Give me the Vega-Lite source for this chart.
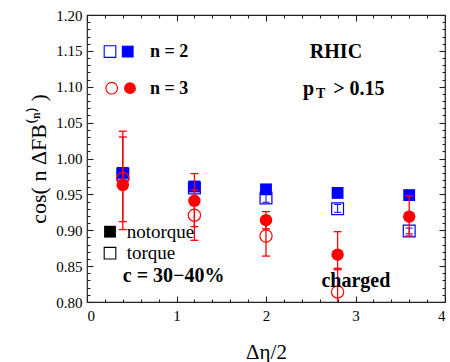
{
  "$schema": "https://vega.github.io/schema/vega-lite/v6.json",
  "width": 358,
  "height": 287,
  "autosize": {"type": "none"},
  "padding": {"left": 87, "top": 15, "right": 5, "bottom": 60},
  "background": "white",
  "datasets": {
    "pts": [
      {"x": 0.4, "n": 2, "t": "notorque", "v": 0.980, "lo": 0.976, "hi": 0.984},
      {"x": 1.2, "n": 2, "t": "notorque", "v": 0.961, "lo": 0.957, "hi": 0.965},
      {"x": 2.0, "n": 2, "t": "notorque", "v": 0.957, "lo": 0.952, "hi": 0.961},
      {"x": 2.8, "n": 2, "t": "notorque", "v": 0.952, "lo": 0.949, "hi": 0.955},
      {"x": 3.6, "n": 2, "t": "notorque", "v": 0.949, "lo": 0.946, "hi": 0.952},
      {"x": 0.4, "n": 2, "t": "torque", "v": 0.978, "lo": 0.973, "hi": 0.983},
      {"x": 1.2, "n": 2, "t": "torque", "v": 0.959, "lo": 0.954, "hi": 0.964},
      {"x": 2.0, "n": 2, "t": "torque", "v": 0.945, "lo": 0.939, "hi": 0.951},
      {"x": 2.8, "n": 2, "t": "torque", "v": 0.930, "lo": 0.925, "hi": 0.936},
      {"x": 3.6, "n": 2, "t": "torque", "v": 0.899, "lo": 0.895, "hi": 0.903},
      {"x": 0.4, "n": 3, "t": "notorque", "v": 0.963, "lo": 0.901, "hi": 1.030},
      {"x": 1.2, "n": 3, "t": "notorque", "v": 0.941, "lo": 0.905, "hi": 0.979},
      {"x": 2.0, "n": 3, "t": "notorque", "v": 0.914, "lo": 0.902, "hi": 0.926},
      {"x": 2.8, "n": 3, "t": "notorque", "v": 0.866, "lo": 0.845, "hi": 0.898},
      {"x": 3.6, "n": 3, "t": "notorque", "v": 0.919, "lo": 0.892, "hi": 0.948},
      {"x": 0.4, "n": 3, "t": "torque", "v": 0.972, "lo": 0.912, "hi": 1.038},
      {"x": 1.2, "n": 3, "t": "torque", "v": 0.921, "lo": 0.886, "hi": 0.956},
      {"x": 2.0, "n": 3, "t": "torque", "v": 0.892, "lo": 0.864, "hi": 0.920},
      {"x": 2.8, "n": 3, "t": "torque", "v": 0.814, "lo": 0.780, "hi": 0.847}
    ],
    "leg": [
      {"x": 0.257, "y": 1.149, "k": "bo", "f": "open"},
      {"x": 0.455, "y": 1.149, "k": "bf", "f": "filled"},
      {"x": 0.276, "y": 1.098, "k": "ro", "f": "open"},
      {"x": 0.480, "y": 1.098, "k": "rf", "f": "filled"},
      {"x": 0.257, "y": 0.898, "k": "kf", "f": "filled"},
      {"x": 0.257, "y": 0.868, "k": "ko", "f": "open"}
    ],
    "txt": [
      {"x": 0.704, "y": 1.148, "s": "b18", "label": "n = 2"},
      {"x": 0.704, "y": 1.097, "s": "b18", "label": "n = 3"},
      {"x": 2.49, "y": 1.148, "s": "b20", "label": "RHIC"},
      {"x": 2.413, "y": 1.097, "s": "b20", "label": "p"},
      {"x": 2.56, "y": 1.090, "s": "sub", "label": "T"},
      {"x": 2.75, "y": 1.097, "s": "b20", "label": "> 0.15"},
      {"x": 0.40, "y": 0.836, "s": "b20", "label": "c = 30−40%"},
      {"x": 2.62, "y": 0.829, "s": "b20", "label": "charged"},
      {"x": 0.443, "y": 0.898, "s": "r21", "label": "notorque"},
      {"x": 0.443, "y": 0.868, "s": "r21", "label": "torque"}
    ]
  },
  "resolve": {"axis": {"x": "independent", "y": "independent"}},
  "layer": [
    {
      "data": {"name": "pts"},
      "transform": [{"filter": "datum.n == 2 && datum.t == 'torque'"}],
      "mark": {"type": "point", "shape": "square", "filled": false, "stroke": "#0000ff", "strokeWidth": 1.2, "size": 140, "opacity": 1},
      "encoding": {
        "x": {"field": "x", "type": "quantitative", "scale": {"domain": [0, 4]},
              "axis": {"orient": "bottom", "values": [0.2,0.4,0.6,0.8,1.2,1.4,1.6,1.8,2.2,2.4,2.6,2.8,3.2,3.4,3.6,3.8], "labels": false, "title": null, "ticks": true, "tickSize": -3, "tickColor": "#222222", "tickWidth": 1.1, "tickOpacity": 1, "zindex": 2}},
        "y": {"field": "v", "type": "quantitative", "scale": {"domain": [0.8, 1.2]},
              "axis": {"orient": "left", "values": [0.81,0.82,0.83,0.84,0.86,0.87,0.88,0.89,0.91,0.92,0.93,0.94,0.96,0.97,0.98,0.99,1.01,1.02,1.03,1.04,1.06,1.07,1.08,1.09,1.11,1.12,1.13,1.14,1.16,1.17,1.18,1.19], "labels": false, "title": null, "ticks": true, "tickSize": -3, "tickColor": "#222222", "tickWidth": 1.1, "tickOpacity": 1, "zindex": 2}}
      }
    },
    {
      "data": {"name": "pts"},
      "transform": [{"filter": "datum.n == 2"}],
      "mark": {"type": "rule", "stroke": "#0000ff", "strokeWidth": 1},
      "encoding": {
        "x": {"field": "x", "type": "quantitative", "scale": {"domain": [0, 4]}, "axis": null},
        "y": {"field": "lo", "type": "quantitative", "scale": {"domain": [0.8, 1.2]}, "axis": null},
        "y2": {"field": "hi"}
      }
    },
    {
      "data": {"name": "pts"},
      "transform": [{"filter": "datum.n == 2"}],
      "mark": {"type": "tick", "orient": "horizontal", "color": "#0000ff", "size": 7, "thickness": 1, "opacity": 1},
      "encoding": {
        "x": {"field": "x", "type": "quantitative", "scale": {"domain": [0, 4]}, "axis": null},
        "y": {"field": "lo", "type": "quantitative", "scale": {"domain": [0.8, 1.2]}, "axis": null}
      }
    },
    {
      "data": {"name": "pts"},
      "transform": [{"filter": "datum.n == 2"}],
      "mark": {"type": "tick", "orient": "horizontal", "color": "#0000ff", "size": 7, "thickness": 1, "opacity": 1},
      "encoding": {
        "x": {"field": "x", "type": "quantitative", "scale": {"domain": [0, 4]}, "axis": null},
        "y": {"field": "hi", "type": "quantitative", "scale": {"domain": [0.8, 1.2]}, "axis": null}
      }
    },
    {
      "data": {"name": "pts"},
      "transform": [{"filter": "datum.n == 2 && datum.t == 'notorque'"}],
      "mark": {"type": "point", "shape": "square", "filled": true, "color": "#0000ff", "size": 140, "opacity": 1},
      "encoding": {
        "x": {"field": "x", "type": "quantitative", "scale": {"domain": [0, 4]},
              "axis": {"orient": "bottom", "values": [0, 1, 2, 3, 4], "format": "d", "ticks": true, "tickSize": -6, "tickColor": "#222222", "tickWidth": 1.1, "tickOpacity": 1, "labelPadding": 12, "title": "Δη/2", "titlePadding": 18, "zindex": 2}},
        "y": {"field": "v", "type": "quantitative", "scale": {"domain": [0.8, 1.2]},
              "axis": {"orient": "left", "values": [0.8,0.85,0.9,0.95,1.0,1.05,1.1,1.15,1.2], "format": ".2f", "ticks": true, "tickSize": -6, "tickColor": "#222222", "tickWidth": 1.1, "tickOpacity": 1, "labelPadding": 11, "title": "cos( n ΔFB⁽ⁿ⁾ )", "titlePadding": 5, "titleFontSize": 22, "zindex": 2}}
      }
    },
    {
      "data": {"name": "pts"},
      "transform": [{"filter": "datum.n == 3"}],
      "mark": {"type": "rule", "stroke": "#ff0000", "strokeWidth": 1.3, "clip": true},
      "encoding": {
        "x": {"field": "x", "type": "quantitative", "scale": {"domain": [0, 4]},
              "axis": {"orient": "top", "values": [0, 1, 2, 3, 4], "labels": false, "title": null, "ticks": true, "tickSize": -6, "tickColor": "#222222", "tickWidth": 1.1, "tickOpacity": 1, "zindex": 2}},
        "y": {"field": "lo", "type": "quantitative", "scale": {"domain": [0.8, 1.2]},
              "axis": {"orient": "right", "values": [0.8,0.85,0.9,0.95,1.0,1.05,1.1,1.15,1.2], "labels": false, "title": null, "ticks": true, "tickSize": -6, "tickColor": "#222222", "tickWidth": 1.1, "tickOpacity": 1, "zindex": 2}},
        "y2": {"field": "hi"}
      }
    },
    {
      "data": {"name": "pts"},
      "transform": [{"filter": "datum.n == 3"}],
      "mark": {"type": "tick", "orient": "horizontal", "color": "#ff0000", "size": 8, "thickness": 1.3, "opacity": 1, "clip": true},
      "encoding": {
        "x": {"field": "x", "type": "quantitative", "scale": {"domain": [0, 4]},
              "axis": {"orient": "top", "values": [0.2,0.4,0.6,0.8,1.2,1.4,1.6,1.8,2.2,2.4,2.6,2.8,3.2,3.4,3.6,3.8], "labels": false, "title": null, "ticks": true, "tickSize": -3, "tickColor": "#222222", "tickWidth": 1.1, "tickOpacity": 1, "zindex": 2}},
        "y": {"field": "lo", "type": "quantitative", "scale": {"domain": [0.8, 1.2]},
              "axis": {"orient": "right", "values": [0.81,0.82,0.83,0.84,0.86,0.87,0.88,0.89,0.91,0.92,0.93,0.94,0.96,0.97,0.98,0.99,1.01,1.02,1.03,1.04,1.06,1.07,1.08,1.09,1.11,1.12,1.13,1.14,1.16,1.17,1.18,1.19], "labels": false, "title": null, "ticks": true, "tickSize": -3, "tickColor": "#222222", "tickWidth": 1.1, "tickOpacity": 1, "zindex": 2}}
      }
    },
    {
      "data": {"name": "pts"},
      "transform": [{"filter": "datum.n == 3"}],
      "mark": {"type": "tick", "orient": "horizontal", "color": "#ff0000", "size": 8, "thickness": 1.3, "opacity": 1, "clip": true},
      "encoding": {
        "x": {"field": "x", "type": "quantitative", "scale": {"domain": [0, 4]}, "axis": null},
        "y": {"field": "hi", "type": "quantitative", "scale": {"domain": [0.8, 1.2]}, "axis": null}
      }
    },
    {
      "data": {"name": "pts"},
      "transform": [{"filter": "datum.n == 3 && datum.t == 'torque'"}],
      "mark": {"type": "point", "shape": "circle", "filled": false, "stroke": "#ff0000", "strokeWidth": 1.2, "size": 150, "opacity": 1},
      "encoding": {
        "x": {"field": "x", "type": "quantitative", "scale": {"domain": [0, 4]}, "axis": null},
        "y": {"field": "v", "type": "quantitative", "scale": {"domain": [0.8, 1.2]}, "axis": null}
      }
    },
    {
      "data": {"name": "pts"},
      "transform": [{"filter": "datum.n == 3 && datum.t == 'notorque'"}],
      "mark": {"type": "point", "shape": "circle", "filled": true, "color": "#ff0000", "size": 155, "opacity": 1},
      "encoding": {
        "x": {"field": "x", "type": "quantitative", "scale": {"domain": [0, 4]}, "axis": null},
        "y": {"field": "v", "type": "quantitative", "scale": {"domain": [0.8, 1.2]}, "axis": null}
      }
    },
    {
      "data": {"name": "leg"},
      "transform": [{"filter": "datum.f == 'filled'"}],
      "mark": {"type": "point", "filled": true, "size": 140, "opacity": 1},
      "encoding": {
        "x": {"field": "x", "type": "quantitative", "scale": {"domain": [0, 4]}, "axis": null},
        "y": {"field": "y", "type": "quantitative", "scale": {"domain": [0.8, 1.2]}, "axis": null},
        "color": {"field": "k", "type": "nominal", "legend": null, "scale": {"domain": ["bo","bf","ro","rf","kf","ko"], "range": ["#0000ff","#0000ff","#ff0000","#ff0000","#000000","#000000"]}},
        "shape": {"field": "k", "type": "nominal", "legend": null, "scale": {"domain": ["bo","bf","ro","rf","kf","ko"], "range": ["square","square","circle","circle","square","square"]}}
      }
    },
    {
      "data": {"name": "leg"},
      "transform": [{"filter": "datum.f == 'open'"}],
      "mark": {"type": "point", "filled": false, "strokeWidth": 1.1, "size": 135, "opacity": 1},
      "encoding": {
        "x": {"field": "x", "type": "quantitative", "scale": {"domain": [0, 4]}, "axis": null},
        "y": {"field": "y", "type": "quantitative", "scale": {"domain": [0.8, 1.2]}, "axis": null},
        "color": {"field": "k", "type": "nominal", "legend": null, "scale": {"domain": ["bo","bf","ro","rf","kf","ko"], "range": ["#0000ff","#0000ff","#ff0000","#ff0000","#000000","#000000"]}},
        "shape": {"field": "k", "type": "nominal", "legend": null, "scale": {"domain": ["bo","bf","ro","rf","kf","ko"], "range": ["square","square","circle","circle","square","square"]}}
      }
    },
    {
      "data": {"name": "txt"},
      "transform": [{"filter": "datum.s == 'b18'"}],
      "mark": {"type": "text", "align": "left", "baseline": "middle", "font": "Liberation Serif", "fontSize": 18, "fontWeight": "bold", "color": "#000000"},
      "encoding": {
        "x": {"field": "x", "type": "quantitative", "scale": {"domain": [0, 4]}, "axis": null},
        "y": {"field": "y", "type": "quantitative", "scale": {"domain": [0.8, 1.2]}, "axis": null},
        "text": {"field": "label"}
      }
    },
    {
      "data": {"name": "txt"},
      "transform": [{"filter": "datum.s == 'b20'"}],
      "mark": {"type": "text", "align": "left", "baseline": "middle", "font": "Liberation Serif", "fontSize": 20, "fontWeight": "bold", "color": "#000000"},
      "encoding": {
        "x": {"field": "x", "type": "quantitative", "scale": {"domain": [0, 4]}, "axis": null},
        "y": {"field": "y", "type": "quantitative", "scale": {"domain": [0.8, 1.2]}, "axis": null},
        "text": {"field": "label"}
      }
    },
    {
      "data": {"name": "txt"},
      "transform": [{"filter": "datum.s == 'sub'"}],
      "mark": {"type": "text", "align": "left", "baseline": "middle", "font": "Liberation Serif", "fontSize": 14, "fontWeight": "bold", "color": "#000000"},
      "encoding": {
        "x": {"field": "x", "type": "quantitative", "scale": {"domain": [0, 4]}, "axis": null},
        "y": {"field": "y", "type": "quantitative", "scale": {"domain": [0.8, 1.2]}, "axis": null},
        "text": {"field": "label"}
      }
    },
    {
      "data": {"name": "txt"},
      "transform": [{"filter": "datum.s == 'r21'"}],
      "mark": {"type": "text", "align": "left", "baseline": "middle", "font": "Liberation Serif", "fontSize": 19, "color": "#000000"},
      "encoding": {
        "x": {"field": "x", "type": "quantitative", "scale": {"domain": [0, 4]}, "axis": null},
        "y": {"field": "y", "type": "quantitative", "scale": {"domain": [0.8, 1.2]}, "axis": null},
        "text": {"field": "label"}
      }
    }
  ],
  "config": {
    "view": {"stroke": "#222222", "strokeWidth": 1.2},
    "axis": {
      "grid": false,
      "domain": false,
      "labelFont": "Liberation Serif",
      "labelFontSize": 15,
      "labelColor": "#000000",
      "titleFont": "Liberation Serif",
      "titleFontSize": 21,
      "titleFontWeight": "normal",
      "titleColor": "#000000"
    }
  }
}
